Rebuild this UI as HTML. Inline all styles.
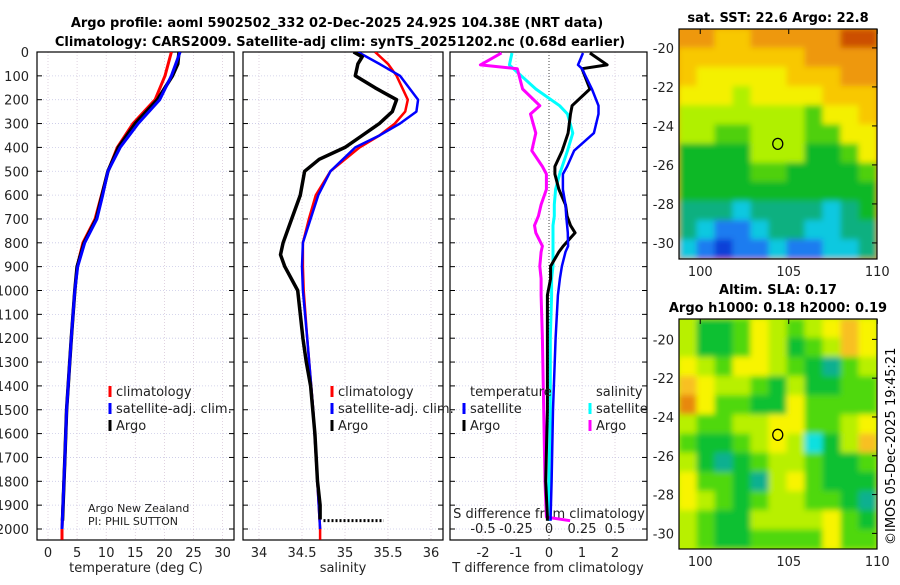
<!DOCTYPE html>
<html><head><meta charset="utf-8"><style>
body{margin:0;background:#fff;width:900px;height:580px;overflow:hidden}
svg{font-family:"DejaVu Sans","Liberation Sans",sans-serif}
</style></head><body>
<svg id="c" width="900" height="580" xmlns="http://www.w3.org/2000/svg">
<defs><filter id="bl" x="0" y="0" width="1" height="1"><feGaussianBlur stdDeviation="3"/></filter>
<clipPath id="m1"><rect x="679" y="29" width="198" height="230"/></clipPath>
<clipPath id="m2"><rect x="679" y="319" width="198" height="230"/></clipPath>
<clipPath id="p1"><rect x="37" y="52" width="197" height="488"/></clipPath>
<clipPath id="p2"><rect x="243" y="52" width="200" height="488"/></clipPath>
<clipPath id="p3"><rect x="450" y="52" width="197" height="488"/></clipPath></defs>
<text x="337" y="27" text-anchor="middle" font-size="13" font-weight="bold">Argo profile: aoml 5902502_332 02-Dec-2025 24.92S 104.38E (NRT data)</text>
<text x="340" y="46" text-anchor="middle" font-size="13" font-weight="bold">Climatology: CARS2009. Satellite-adj clim: synTS_20251202.nc (0.68d earlier)</text>
<text x="778" y="22" text-anchor="middle" font-size="13" font-weight="bold">sat. SST: 22.6 Argo: 22.8</text>
<text x="778" y="294" text-anchor="middle" font-size="13" font-weight="bold">Altim. SLA: 0.17</text>
<text x="778" y="312" text-anchor="middle" font-size="13" font-weight="bold">Argo h1000: 0.18 h2000: 0.19</text>
<text transform="translate(895,545) rotate(-90)" font-size="13">©IMOS 05-Dec-2025 19:45:21</text>
<g id="g"></g>
</svg>
<script>
// ---- data ----
const depthT=[0,100,200,300,400,500,600,700,800,900,1000,1200,1500,1700,2000,2045];
const tempClim=[21.2,20.1,18.4,14.6,11.9,10.3,9.2,8.1,6.0,5.0,4.6,4.0,3.2,2.9,2.4,2.4];
const tempSat=[22.7,21.2,19.2,15.5,12.4,10.3,9.4,8.4,6.3,5.1,4.6,4.0,3.2,2.9,2.4];
const depthArgoT=[0,50,100,200,300,400,500,600,700,800,900,1000,1200,1500,1700,1965];
const tempArgo=[22.5,22.3,21.4,18.8,15.0,12.1,10.3,9.3,8.3,6.2,5.0,4.6,4.0,3.2,2.9,2.5];
const depthS=[0,50,100,200,250,300,350,400,500,600,700,800,900,1000,1200,1500,2000,2045];
const salClim=[35.35,35.5,35.6,35.73,35.7,35.58,35.4,35.17,34.83,34.66,34.58,34.51,34.51,34.52,34.56,34.63,34.71,34.71];
const salSat=[35.15,35.4,35.64,35.85,35.83,35.64,35.4,35.12,34.83,34.69,34.6,34.51,34.5,34.51,34.56,34.63,34.71];
const depthArgoS=[0,20,50,100,150,200,250,300,350,400,450,500,600,700,800,850,900,1000,1100,1200,1300,1400,1600,1800,1900,1960];
const salArgo=[35.1,35.2,35.15,35.12,35.35,35.6,35.55,35.4,35.2,35.0,34.7,34.53,34.48,34.38,34.28,34.25,34.3,34.45,34.48,34.51,34.55,34.6,34.65,34.68,34.71,34.71];
const depthDiff=[4,54,70,155,225,260,340,414,480,512,576,640,688,727,758,814,838,898,950,1020,1200,1500,1800,1950,1965];
const dSArgo=[-0.36,-0.52,-0.24,-0.2,-0.07,-0.14,-0.1,-0.13,-0.05,-0.02,-0.02,-0.06,-0.08,-0.11,-0.1,-0.05,-0.06,-0.07,-0.06,-0.06,-0.05,-0.04,-0.03,-0.02,0.16];
const dSSat=[-0.28,-0.3,-0.27,-0.1,0.08,0.14,0.18,0.14,0.1,0.08,0.05,0.04,0.04,0.03,0.03,0.03,0.03,0.03,0.02,0.02,0.01,0.01,0.0,0.0,0.0];
const dTArgo=[1.24,1.76,1.0,1.24,0.7,0.65,0.58,0.4,0.18,0.18,0.3,0.5,0.55,0.65,0.79,0.43,0.3,0.05,0.05,-0.05,-0.05,-0.05,-0.1,-0.05,-0.05];
const dTSat=[1.03,0.88,1.0,1.3,1.5,1.5,1.36,0.76,0.55,0.42,0.42,0.5,0.52,0.55,0.57,0.58,0.5,0.39,0.33,0.27,0.2,0.12,0.08,0.05,0.05];
const depthTicks=[0,100,200,300,400,500,600,700,800,900,1000,1100,1200,1300,1400,1500,1600,1700,1800,1900,2000];
const tTicks=[0,5,10,15,20,25,30];
const sTicks=[34,34.5,35,35.5,36];
const dTTicks=[-2,-1,0,1,2];
const dSTickLabels=["-0.5","-0.25","0","0.25","0.5"];
const lonTicks=[100,105,110];
const latTicks=[-20,-22,-24,-26,-28,-30];
const sstGrid=[
[9,9,8,8,9,9,9,9,9,10,10],[8,8,8,8,8,8,8,9,9,9,9],[8,7,7,7,7,7,8,8,8,9,9],[7,7,7,6,7,7,7,7,8,8,8],
[6,6,6,6,6,6,6,5,7,7,8],[6,6,5,5,6,6,6,5,5,7,7],[4,4,4,4,6,6,6,4,4,5,7],[4,4,4,4,5,5,4,4,4,4,5],
[4,4,4,4,4,4,4,4,4,4,4],[3,3,3,2,3,3,3,3,2,3,4],[3,2,1,1,2,3,3,2,2,3,3],[2,1,0,1,1,2,1,1,2,2,3]];
const slaGrid=[
[4,2,2,3,5,4,3,4,5,6,5],[4,2,2,3,5,4,2,3,4,6,5],[5,4,3,5,5,4,3,2,1,3,4],[6,5,4,4,3,2,4,2,2,3,3],
[7,5,3,3,2,2,5,3,3,3,3],[4,3,3,4,4,5,5,3,3,4,5],[3,2,2,3,4,5,4,0,2,4,6],[4,2,1,2,3,4,4,3,2,2,3],
[5,3,3,2,1,4,5,3,2,2,2],[5,4,3,2,3,4,4,3,3,2,1],[4,3,2,2,4,4,4,4,5,3,2],[4,3,2,2,3,3,3,3,5,3,3]];
const argoLon=104.38, argoLat=-24.92;
// ---- helpers ----
const NS='http://www.w3.org/2000/svg', G=document.getElementById('g');
function el(t,a,p){const e=document.createElementNS(NS,t);for(const k in a)e.setAttribute(k,a[k]);(p||G).appendChild(e);return e;}
const yD=d=>52+d*0.2385;
const xT=v=>48+v*5.82;
const xS=v=>259+(v-34)*86;
const xdT=v=>549+v*33;
const xdS=v=>549+v*132;
function line(xs,ds,fx,col,w,clip,name){
  const pts=xs.map((v,i)=>fx(v).toFixed(1)+','+yD(ds[i]).toFixed(1)).join(' ');
  const p=el('polyline',{points:pts,fill:'none',stroke:col,'stroke-width':w,'stroke-linejoin':'round','clip-path':'url(#'+clip+')'});
  
  
}
function panel(x0,x1,vticks,fx,labels,lblY,clip,name){
  const pg=el('g',{});
  
  
  depthTicks.forEach(d=>{el('line',{x1:x0,x2:x1,y1:yD(d),y2:yD(d),stroke:'#c8c8e6','stroke-width':0.8,'stroke-dasharray':'1,2'},pg);
    el('line',{x1:x0,x2:x0+5,y1:yD(d),y2:yD(d),stroke:'#000'},pg);el('line',{x1:x1-5,x2:x1,y1:yD(d),y2:yD(d),stroke:'#000'},pg);});
  vticks.forEach((v,i)=>{const x=fx(v);el('line',{x1:x,x2:x,y1:52,y2:540,stroke:'#d8c8d8','stroke-width':0.8,'stroke-dasharray':'1,2'},pg);
    if(labels){const t=el('text',{x:x,y:lblY,'text-anchor':'middle','font-size':13,fill:'#222'},pg);t.textContent=labels[i];
    
    }});
  el('rect',{x:x0,y:52,width:x1-x0,height:488,fill:'none',stroke:'#000','stroke-width':1.2},pg);
}
panel(37,234,tTicks,xT,tTicks,557,'p1','temperature-panel');
panel(243,443,sTicks,xS,sTicks,557,'p2','salinity-panel');
panel(450,647,dTTicks,xdT,dTTicks,557,'p3','difference-panel');
depthTicks.forEach(d=>{const t=el('text',{x:29,y:yD(d)+5,'text-anchor':'end','font-size':13,fill:'#222'});t.textContent=d;
  
  });
el('line',{x1:549,x2:549,y1:52,y2:540,stroke:'#444','stroke-dasharray':'1,2'});
[-0.5,-0.25,0,0.25,0.5].forEach((v,i)=>{const t=el('text',{x:xdS(v),y:533,'text-anchor':'middle','font-size':13,fill:'#222'});t.textContent=dSTickLabels[i];
  
  });
function txt(x,y,s,name,anchor,size){const t=el('text',{x:x,y:y,'font-size':size||13,'text-anchor':anchor||'start',fill:'#222'});t.textContent=s;
  
  return t;}
txt(549,518,'S difference from climatology','s-diff-axis-title','middle');
txt(136,572,'temperature (deg C)','temperature-axis-title','middle');
txt(343,572,'salinity','salinity-axis-title','middle');
txt(548,572,'T difference from climatology','t-diff-axis-title','middle');
txt(88,512,'Argo New Zealand','float-owner','start',11);
txt(88,525,'PI: PHIL SUTTON','float-pi','start',11);
// series
line(tempClim,depthT,xT,'#f00',3,'p1','temp-climatology-line');
line(tempArgo,depthArgoT,xT,'#000',3.5,'p1','temp-argo-line');
line(tempSat,depthT.slice(0,tempSat.length),xT,'#00f',3,'p1','temp-satellite-line');
line(salClim,depthS,xS,'#f00',2.5,'p2','sal-climatology-line');
line(salSat,depthS.slice(0,salSat.length),xS,'#00f',2.5,'p2','sal-satellite-line');
line(salArgo,depthArgoS,xS,'#000',3.5,'p2','sal-argo-line');
const dot=el('line',{x1:xS(34.75),x2:xS(35.45),y1:yD(1965),y2:yD(1965),stroke:'#000','stroke-width':3,'stroke-dasharray':'2,2'});


line(dSSat,depthDiff,xdS,'#0ff',3,'p3','sdiff-satellite-line');
line(dSArgo,depthDiff,xdS,'#f0f',3,'p3','sdiff-argo-line');
line(dTArgo,depthDiff,xdT,'#000',3,'p3','tdiff-argo-line');
line(dTSat,depthDiff,xdT,'#00f',2.5,'p3','tdiff-satellite-line');
// legends
function leg(x,y,col,s,name){const g=el('g',{});
  el('line',{x1:x,x2:x,y1:y-10,y2:y+1,stroke:col,'stroke-width':3},g);const t=el('text',{x:x+6,y:y,'font-size':13,fill:'#222'},g);t.textContent=s;}
leg(110,396,'#f00','climatology','legend-climatology');leg(110,413,'#00f','satellite-adj. clim.','legend-satellite');leg(110,430,'#000','Argo','legend-argo');
leg(332,396,'#f00','climatology','legend-climatology-s');leg(332,413,'#00f','satellite-adj. clim.','legend-satellite-s');leg(332,430,'#000','Argo','legend-argo-s');
txt(470,396,'temperature','legend-temperature-header');txt(596,396,'salinity','legend-salinity-header');
leg(464,413,'#00f','satellite','legend-t-satellite');leg(464,430,'#000','Argo','legend-t-argo');
leg(590,413,'#0ff','satellite','legend-s-satellite');leg(590,430,'#f0f','Argo','legend-s-argo');
// maps
const sstCols=['#0a3fd8','#1a7cf0','#10c8e0','#08b080','#10b828','#50d010','#b0f000','#f4f000','#f8c800','#ee9808','#cc5000'];
const slaCols=['#10e0e0','#10b090','#10c030','#50d810','#b8f000','#f8f400','#f8c020','#e88810'];
const lonX0=679,lonS=17.7;
function map(grid,cols,y0,latTop,latS,clip,name){
  const mg=el('g',{});
  const inner=el('g',{'clip-path':'url(#'+clip+')'},mg);const bg=el('g',{filter:'url(#bl)'},inner);
  el('rect',{x:670,y:y0-10,width:220,height:250,fill:cols[grid[0][0]]},bg);
  grid.forEach((row,r)=>row.forEach((v,c)=>{const w=198/11,h=230/12;
    el('rect',{x:679+c*w-0.5,y:y0+r*h-0.5,width:w+1,height:h+1,fill:cols[v]},bg);}));
  const yL=lat=>y0+(latTop-lat)*latS;
  el('rect',{x:679,y:y0,width:198,height:230,fill:'none',stroke:'#000','stroke-width':1.2},mg);
  latTicks.forEach(l=>{el('line',{x1:872,x2:877,y1:yL(l),y2:yL(l),stroke:'#000'},mg);
    const t=el('text',{x:674,y:yL(l)+5,'text-anchor':'end','font-size':13,fill:'#222'},mg);t.textContent=l;});
  lonTicks.forEach(l=>{const x=lonX0+(l-98.8)*lonS;el('line',{x1:x,x2:x,y1:y0,y2:y0+5,stroke:'#000'},mg);
    const t=el('text',{x:x,y:y0+247,'text-anchor':'middle','font-size':13,fill:'#222'},mg);t.textContent=l;});
  const ci=el('ellipse',{cx:lonX0+(argoLon-98.8)*lonS,cy:yL(argoLat),rx:5,ry:5.5,fill:'none',stroke:'#000','stroke-width':1.3},mg);
  
  
}
map(sstGrid,sstCols,29,-19.03,19.5,'m1','sst-map');
map(slaGrid,slaCols,319,-18.95,19.4,'m2','sla-map');
</script>
</body></html>
